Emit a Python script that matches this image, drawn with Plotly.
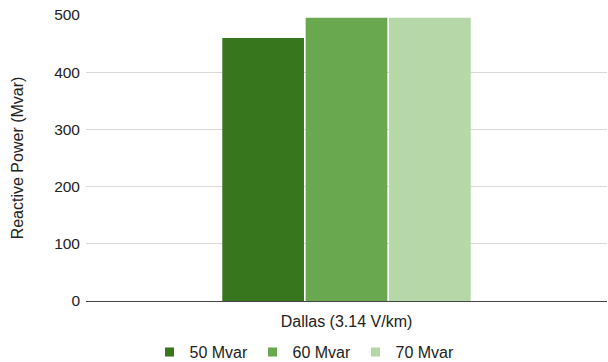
import plotly.graph_objects as go

categories = ["Dallas (3.14 V/km)"]
series_names = ["50 Mvar", "60 Mvar", "70 Mvar"]
series_values = [[460], [495], [495]]
colors = ["#38761d", "#6aa84f", "#b6d7a8"]
y_ticks = [0, 100, 200, 300, 400, 500]

fig = go.Figure()
for name, vals, col in zip(series_names, series_values, colors):
    fig.add_trace(go.Bar(x=categories, y=vals, name=name, marker_color=col,
                         marker_line_width=0, showlegend=False))

# small square legend keys
for name, col in zip(series_names, colors):
    fig.add_trace(go.Scatter(x=[None], y=[None], mode="markers", name=name,
                             marker=dict(symbol="square", size=9, color=col)))

fig.update_layout(
    width=608, height=362,
    margin=dict(l=86, r=1, t=15, b=61),
    paper_bgcolor="white", plot_bgcolor="white",
    font=dict(family="Liberation Sans, Arial", size=16, color="#222222"),
    barmode="group", bargap=0.52, bargroupgap=0.02,
    showlegend=True,
    legend=dict(orientation="h", x=0.5, xanchor="center", xref="container",
                y=(362 - 352) / 362, yanchor="middle", yref="container",
                font=dict(size=16), entrywidth=58, traceorder="normal",
                tracegroupgap=0, bgcolor="rgba(0,0,0,0)"),
    xaxis=dict(showgrid=False, showline=True, linecolor="#444444", linewidth=1,
               ticks="", tickfont=dict(size=16), ticklabelstandoff=6),
    yaxis=dict(range=[0, 500], tickvals=y_ticks, showgrid=True, gridcolor="#d9d9d9",
               zeroline=False, showline=False, ticks="", tickfont=dict(size=15.5),
               ticklabelstandoff=5,
               title=dict(text="Reactive Power (Mvar)", font=dict(size=16), standoff=26)),
)

fig.write_html("out.html")
